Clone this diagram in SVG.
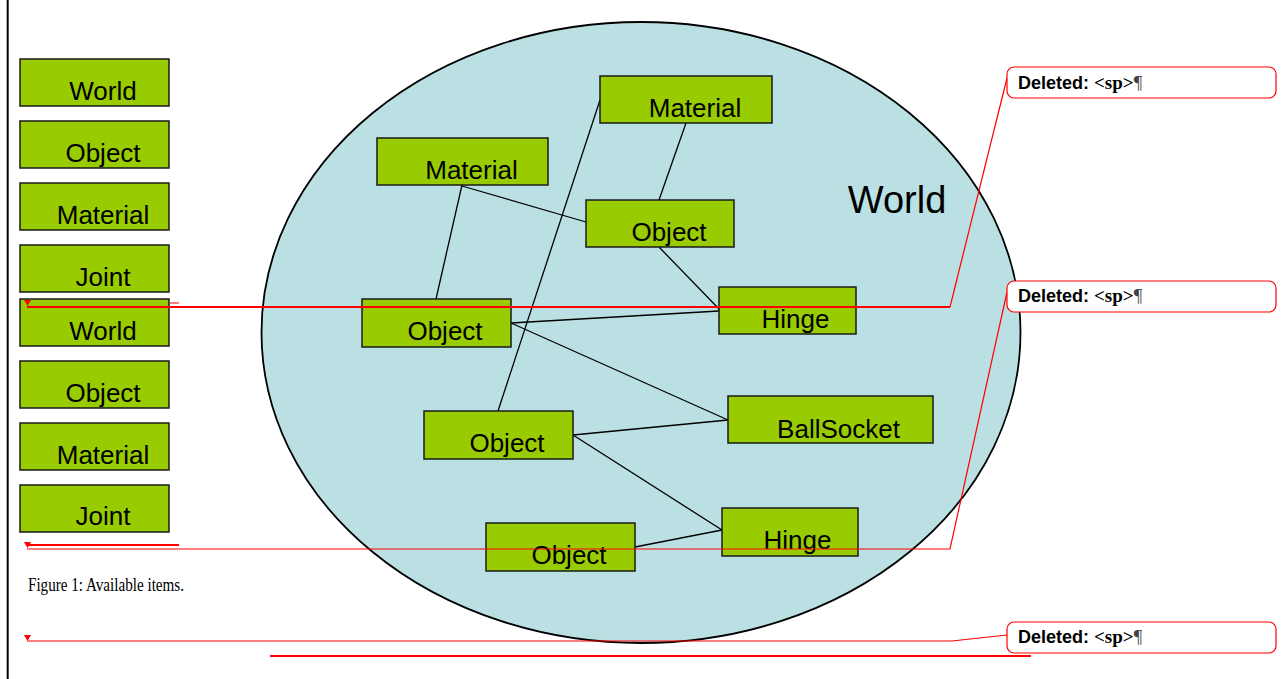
<svg xmlns="http://www.w3.org/2000/svg" width="1282" height="679" viewBox="0 0 1282 679">
  <style>
    .box { fill: #99CC00; stroke: #1a1a1a; stroke-width: 1.5; }
    .lbl { font-family: "Liberation Sans", Arial, sans-serif; font-size: 26px; fill: #000; text-anchor: middle; }
    .conn { stroke: #000; stroke-width: 1.3; fill: none; }
    .mark { stroke: #ff0000; fill: none; }
    .callout { fill: #fff; stroke: #ff0000; stroke-width: 1.2; }
    .del { font-family: "Liberation Sans", Arial, sans-serif; font-size: 18px; font-weight: bold; fill: #000; }
    .sp { font-family: "Liberation Serif", "Times New Roman", serif; font-weight: bold; font-size: 19px; }
    .pil { font-family: "Liberation Serif", "Times New Roman", serif; font-weight: normal; font-size: 19px; fill: #444; }
  </style>
  <defs>
    <polygon id="tick" points="-3.5,0 3.5,0 0,6" fill="#ff0000"/>
  </defs>

  <rect width="1282" height="679" fill="#fff"/>
  <!-- margin rule -->
  <line x1="7.7" y1="0" x2="7.7" y2="679" stroke="#000" stroke-width="2"/>

  <!-- world container -->
  <g id="world-area">
    <ellipse cx="641" cy="332.5" rx="379.5" ry="310.5" fill="#BBE0E3" stroke="#000" stroke-width="1.8"/>
    <text x="897" y="213" font-family="'Liberation Sans', Arial, sans-serif" font-size="38" text-anchor="middle" fill="#000">World</text>
  </g>

  <!-- relations between objects -->
  <g id="connectors">
    <line class="conn" x1="462" y1="185" x2="436" y2="299"/>
    <line class="conn" x1="462" y1="186" x2="586" y2="222"/>
    <line class="conn" x1="686" y1="123" x2="659" y2="200"/>
    <line class="conn" x1="600" y1="100" x2="498" y2="411"/>
    <line class="conn" x1="659" y1="247" x2="720" y2="310"/>
    <line class="conn" x1="511" y1="323" x2="719" y2="311"/>
    <line class="conn" x1="511" y1="323" x2="728" y2="420"/>
    <line class="conn" x1="573" y1="435" x2="728" y2="420"/>
    <line class="conn" x1="573" y1="435" x2="722" y2="530"/>
    <line class="conn" x1="635" y1="547" x2="722" y2="530"/>
  </g>

  <!-- nodes inside the world -->
  <g id="material-a"><rect class="box" x="600" y="76" width="172" height="47"/><text class="lbl" x="695" y="117">Material</text></g>
  <g id="material-b"><rect class="box" x="377" y="138" width="171" height="47"/><text class="lbl" x="471.5" y="179">Material</text></g>
  <g id="object-a"><rect class="box" x="586" y="200" width="148" height="47"/><text class="lbl" x="669" y="241">Object</text></g>
  <g id="hinge-a"><rect class="box" x="719" y="287" width="137" height="47"/><text class="lbl" x="795.5" y="328">Hinge</text></g>
  <g id="object-b"><rect class="box" x="362" y="299" width="149" height="48"/><text class="lbl" x="445" y="340">Object</text></g>
  <g id="ballsocket"><rect class="box" x="728" y="396" width="205" height="47"/><text class="lbl" x="838.5" y="438">BallSocket</text></g>
  <g id="object-c"><rect class="box" x="424" y="411" width="149" height="48"/><text class="lbl" x="507" y="452">Object</text></g>
  <g id="hinge-b"><rect class="box" x="722" y="508" width="136" height="48"/><text class="lbl" x="797.5" y="549">Hinge</text></g>
  <g id="object-d"><rect class="box" x="486" y="523" width="149" height="48"/><text class="lbl" x="569" y="564">Object</text></g>

  <!-- available items list -->
  <g id="item-world-1"><rect class="box" x="20" y="59" width="149" height="47"/><text class="lbl" x="103" y="100">World</text></g>
  <g id="item-object-1"><rect class="box" x="20" y="121" width="149" height="47"/><text class="lbl" x="103" y="162">Object</text></g>
  <g id="item-material-1"><rect class="box" x="20" y="183" width="149" height="47"/><text class="lbl" x="103" y="224">Material</text></g>
  <g id="item-joint-1"><rect class="box" x="20" y="245" width="149" height="47"/><text class="lbl" x="103" y="286">Joint</text></g>
  <g id="item-world-2"><rect class="box" x="20" y="299" width="149" height="47"/><text class="lbl" x="103" y="340">World</text></g>
  <g id="item-object-2"><rect class="box" x="20" y="361" width="149" height="47"/><text class="lbl" x="103" y="402">Object</text></g>
  <g id="item-material-2"><rect class="box" x="20" y="423" width="149" height="47"/><text class="lbl" x="103" y="464">Material</text></g>
  <g id="item-joint-2"><rect class="box" x="20" y="485" width="149" height="47"/><text class="lbl" x="103" y="525">Joint</text></g>

  <text x="28" y="591" font-family="'Liberation Serif', 'Times New Roman', serif" font-size="18" fill="#000" textLength="156" lengthAdjust="spacingAndGlyphs">Figure 1: Available items.</text>

  <!-- revision marks -->
  <g id="revisions">
    <polyline class="mark" stroke-width="1.2" points="1007,78 950,307"/>
    <line class="mark" stroke-width="1.8" x1="950" y1="307" x2="27" y2="307"/>
    <line class="mark" stroke-width="1" x1="170" y1="303" x2="179" y2="303"/>
    <use href="#tick" x="27.5" y="300"/>

    <polyline class="mark" stroke-width="1.2" points="1007,292 950,549 27,549"/>
    <line class="mark" stroke-width="2" x1="27" y1="545" x2="179" y2="545"/>
    <use href="#tick" x="27.5" y="542"/>

    <polyline class="mark" stroke-width="1.2" points="1007,635 952,641 27,641"/>
    <use href="#tick" x="27.5" y="635"/>
    <line class="mark" stroke-width="2" x1="270" y1="656" x2="1031" y2="656"/>

    <g id="callout-1"><rect class="callout" x="1007" y="67" width="269" height="31" rx="7"/><text class="del" x="1018" y="89">Deleted: <tspan class="sp">&lt;sp&gt;</tspan><tspan class="pil">¶</tspan></text></g>
    <g id="callout-2"><rect class="callout" x="1007" y="281" width="269" height="31" rx="7"/><text class="del" x="1018" y="302">Deleted: <tspan class="sp">&lt;sp&gt;</tspan><tspan class="pil">¶</tspan></text></g>
    <g id="callout-3"><rect class="callout" x="1007" y="622" width="269" height="31" rx="7"/><text class="del" x="1018" y="643">Deleted: <tspan class="sp">&lt;sp&gt;</tspan><tspan class="pil">¶</tspan></text></g>
  </g>
</svg>
